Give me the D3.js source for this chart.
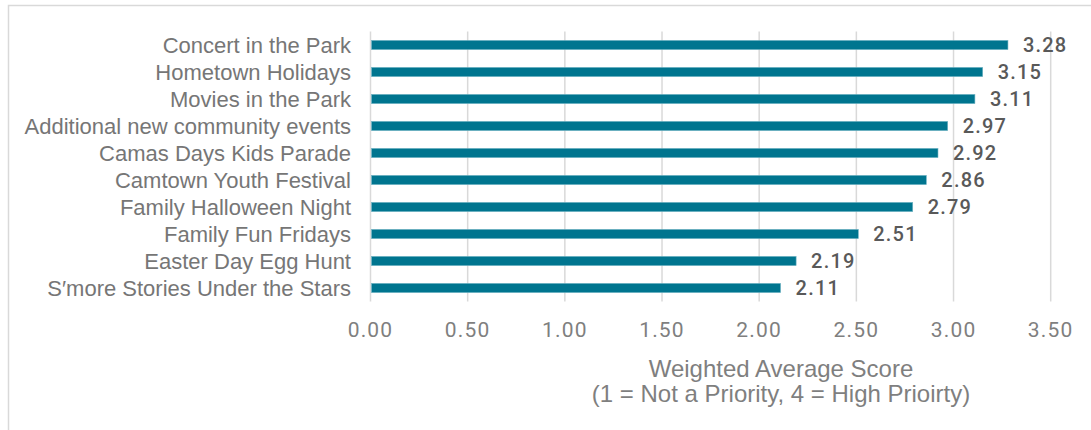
<!DOCTYPE html>
<html>
<head>
<meta charset="utf-8">
<script src="https://cdn.jsdelivr.net/npm/d3@7"></script>
<style>
  body { margin: 0; background: #fff; }
  svg { display: block; }
</style>
</head>
<body>
<script>
// chart data
var events = ["Concert in the Park", "Hometown Holidays", "Movies in the Park",
    "Additional new community events", "Camas Days Kids Parade", "Camtown Youth Festival",
    "Family Halloween Night", "Family Fun Fridays", "Easter Day Egg Hunt",
    "S\u2032more Stories Under the Stars"];
var scores = [3.28, 3.15, 3.11, 2.97, 2.92, 2.86, 2.79, 2.51, 2.19, 2.11];
var xTicks = [0, 0.5, 1, 1.5, 2, 2.5, 3, 3.5];
var titleLines = ["Weighted Average Score", "(1 = Not a Priority, 4 = High Prioirty)"];

var width = 1091,
    height = 430;

var svg = d3.select("body")
    .append("svg")
    .attr("width", width)
    .attr("height", height);

//outer chart frame
svg.append("rect")
    .attr("x", 8.5)
    .attr("y", 5.5)
    .attr("width", width)
    .attr("height", height)
    .attr("fill", "none")
    .attr("stroke", "#d9d9d9")
    .attr("stroke-width", 1.5);

var x = d3.scaleLinear()
    .domain([0, 3.5])
    .range([370.5, 1050.7]);

var y = d3.scaleBand()
    .domain(events)
    .range([31.5, 301.5])
    .paddingInner(0.66)
    .paddingOuter(0.33);

//vertical gridlines
svg.selectAll(".grid")
    .data(xTicks)
    .enter()
    .append("line")
    .attr("class", "grid")
    .attr("x1", function(d){ return x(d); })
    .attr("x2", function(d){ return x(d); })
    .attr("y1", 31.5)
    .attr("y2", 301.5)
    .attr("stroke", "#d9d9d9")
    .attr("stroke-width", 1.5);

//bars
svg.selectAll(".bar")
    .data(scores)
    .enter()
    .append("rect")
    .attr("class", "bar")
    .attr("x", x(0) + 1)
    .attr("y", function(d, i){ return y(events[i]); })
    .attr("width", function(d){ return x(d) - x(0) - 1; })
    .attr("height", y.bandwidth())
    .attr("fill", "#00758f")
    .attr("stroke", "#6fb3c4")
    .attr("stroke-width", 0.6);

//value labels
svg.selectAll(".val")
    .data(scores)
    .enter()
    .append("text")
    .attr("class", "val")
    .attr("x", function(d){ return x(d) + 15; })
    .attr("y", function(d, i){ return y(events[i]) + y.bandwidth() / 2; })
    .attr("dy", "0.36em")
    .attr("font-family", "Roboto, sans-serif")
    .attr("font-weight", 500)
    .attr("font-size", 20)
    .attr("letter-spacing", 1.2)
    .attr("fill", "#595959")
    .text(function(d){ return d.toFixed(2); });

//category labels
svg.selectAll(".cat")
    .data(events)
    .enter()
    .append("text")
    .attr("class", "cat")
    .attr("x", 351)
    .attr("y", function(d){ return y(d) + y.bandwidth() / 2; })
    .attr("dy", "0.36em")
    .attr("text-anchor", "end")
    .attr("font-family", "'Liberation Sans', Arial, sans-serif")
    .attr("font-size", 22)
    .attr("fill", "#767676")
    .text(function(d){ return d; });

//x axis tick labels
svg.selectAll(".tick-label")
    .data(xTicks)
    .enter()
    .append("text")
    .attr("class", "tick-label")
    .attr("x", function(d){ return x(d); })
    .attr("y", 329)
    .attr("dy", "0.36em")
    .attr("text-anchor", "middle")
    .attr("font-family", "Roboto, sans-serif")
    .attr("font-size", 21)
    .attr("letter-spacing", 1.2)
    .attr("fill", "#7f7f7f")
    .text(function(d){ return d.toFixed(2); });

//axis title
svg.selectAll(".axis-title")
    .data(titleLines)
    .enter()
    .append("text")
    .attr("class", "axis-title")
    .attr("x", 781)
    .attr("y", function(d, i){ return 377 + i * 25; })
    .attr("text-anchor", "middle")
    .attr("font-family", "'Liberation Sans', Arial, sans-serif")
    .attr("font-size", 24)
    .attr("fill", "#7f7f7f")
    .text(function(d){ return d; });
</script>
</body>
</html>
